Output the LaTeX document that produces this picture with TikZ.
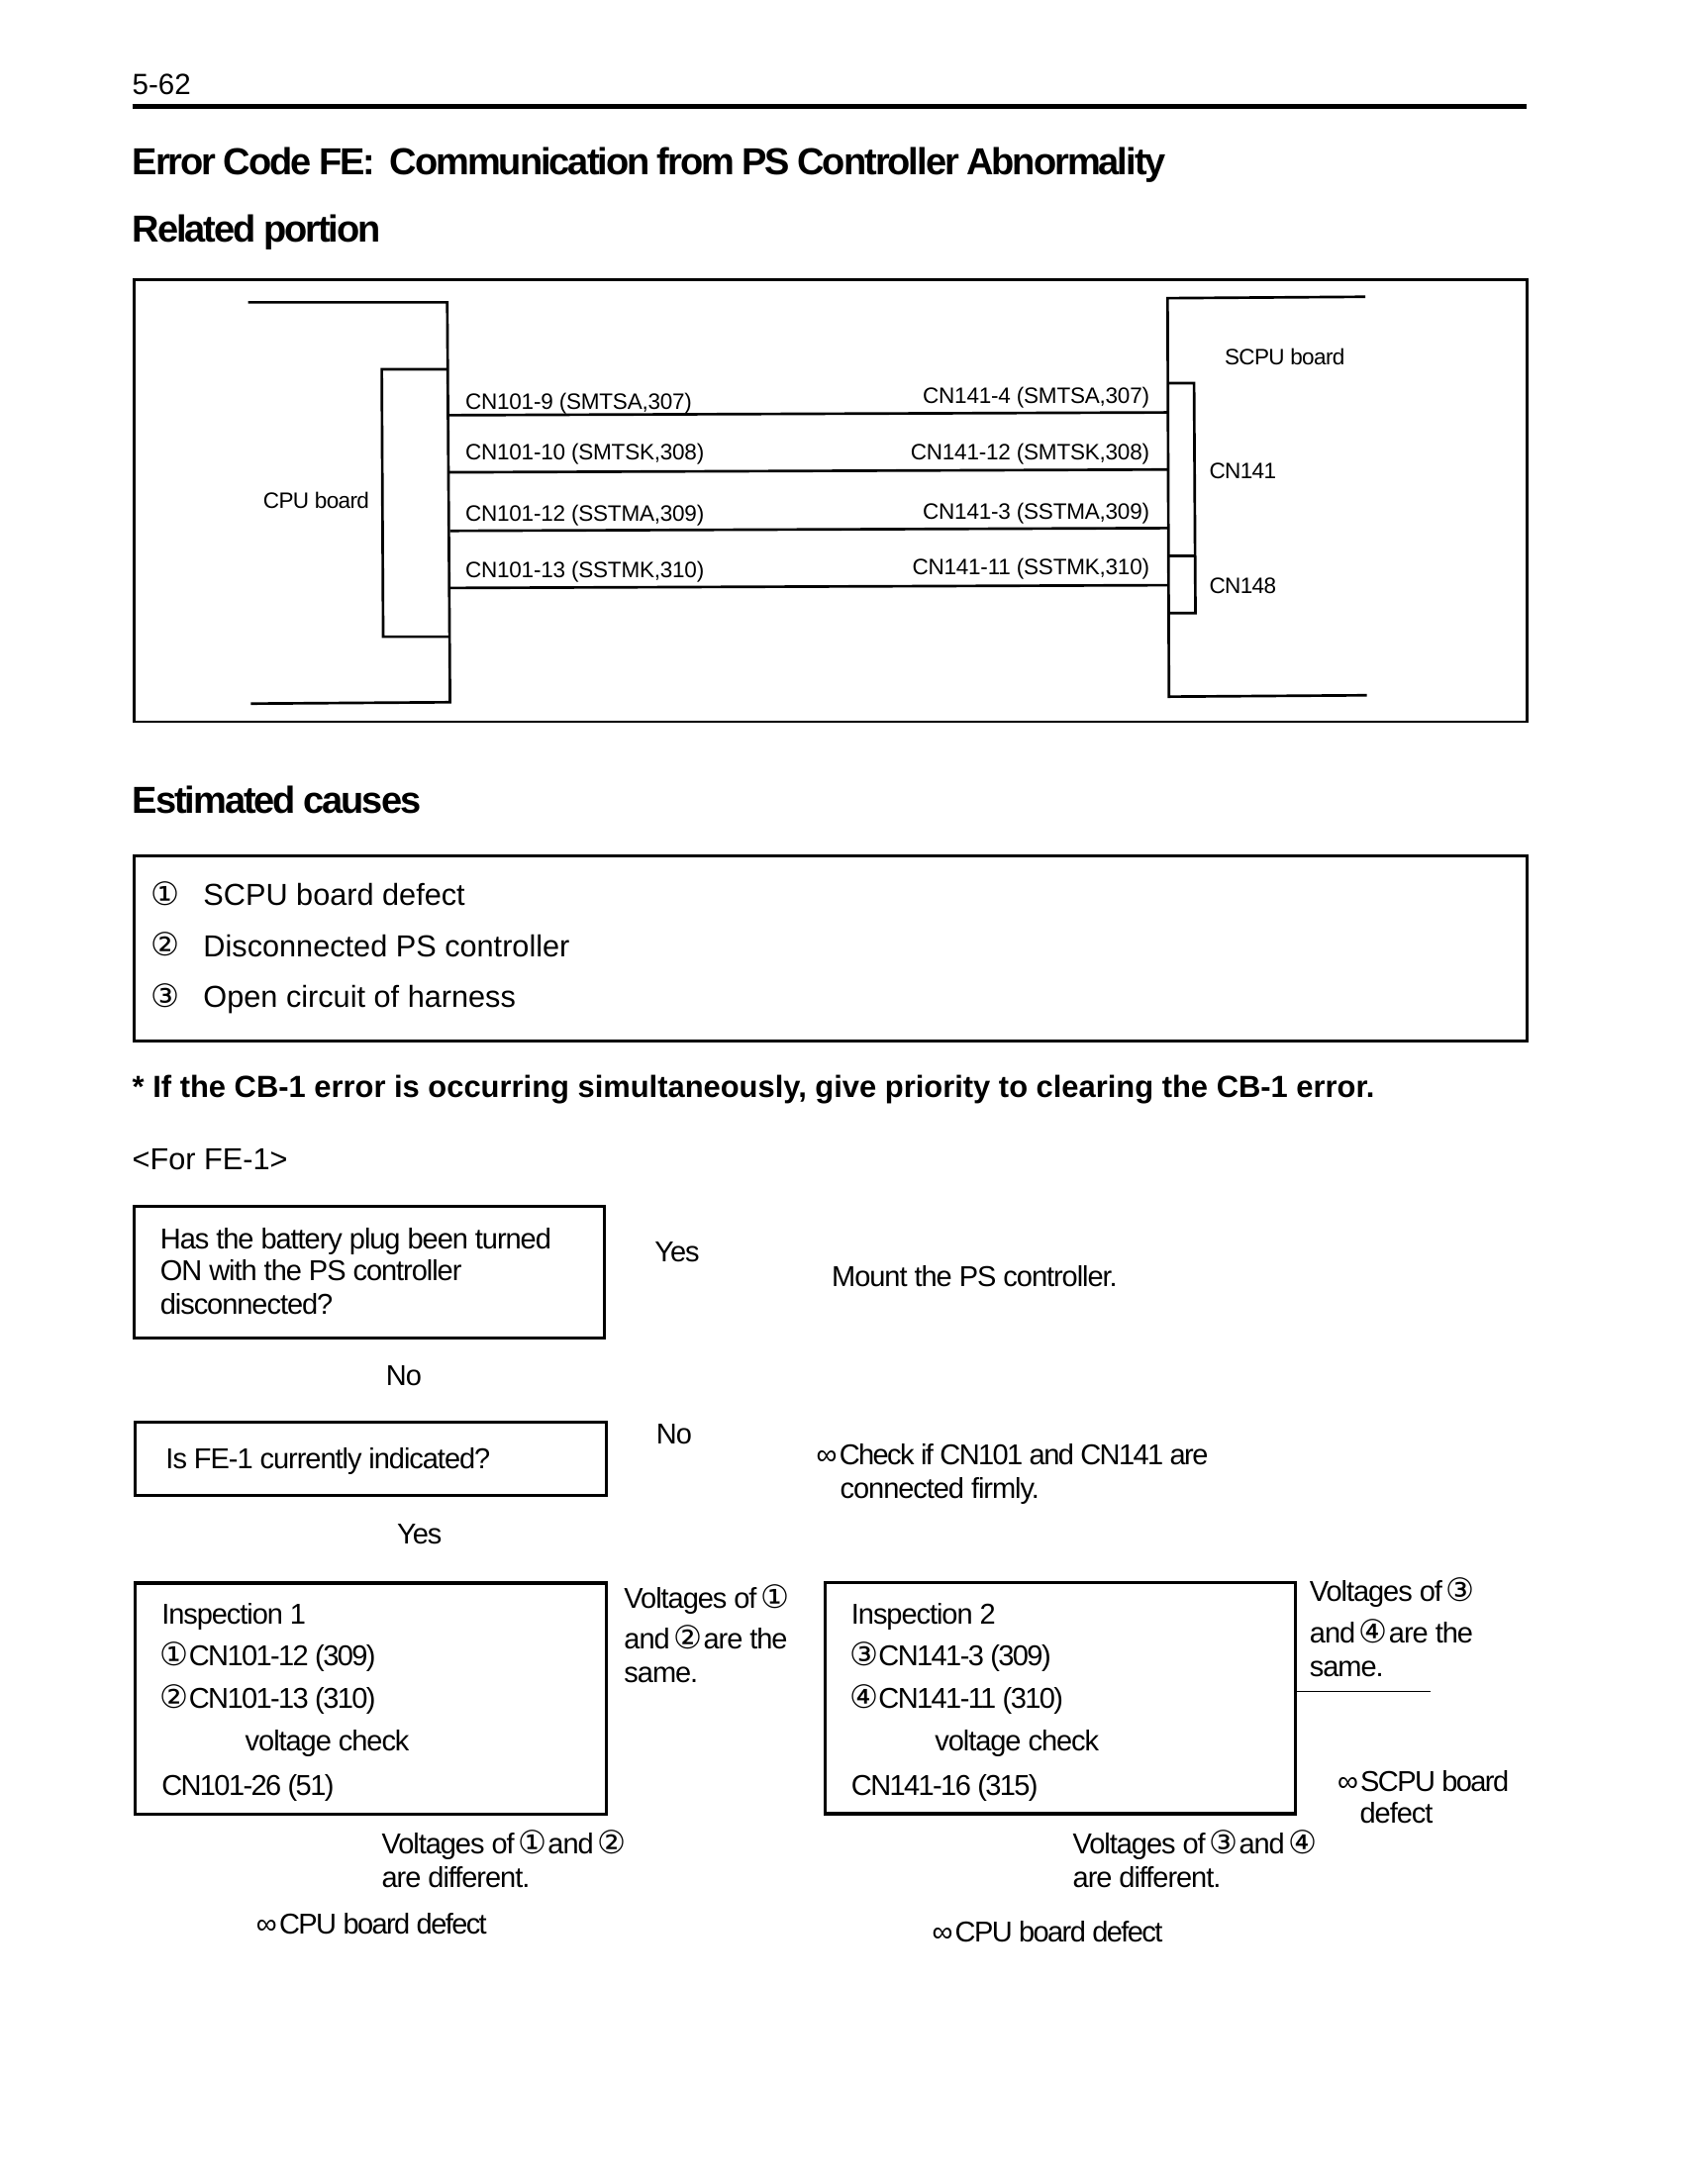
\documentclass[tikz,border=0pt]{standalone}
\usepackage{fontspec}
\setmainfont{Liberation Sans}
\newfontfamily\tightf[LetterSpace=-3.6]{Liberation Sans}
\newfontfamily\digitf[LetterSpace=-5.5]{Liberation Sans}
\newfontfamily\labelf[LetterSpace=-1]{Liberation Sans}
\newfontfamily\labelg[LetterSpace=-2.8]{Liberation Sans}
\newfontfamily\headf[LetterSpace=-5.3,WordSpace=0.85,BoldFont={Liberation Sans Bold}]{Liberation Sans}
\newfontfamily\symf{DejaVu Sans}
\newcommand{\cnglyph}[1]{\makebox[9pt]{\symf\fontsize{11.5}{12}\selectfont #1}}
\newcommand{\cn}[1]{\hspace{2pt}\cnglyph{#1}\hspace{1pt}}
\newcommand{\cnb}[1]{\cnglyph{#1}\hspace{0.8pt}}
\newcommand{\infm}{{\fontsize{10.4}{10}\selectfont ∞}\hspace{0.8pt}}
\tikzset{
  base/.style={anchor=base west,inner sep=0pt,outer sep=0pt,text=black},
  pageno/.style={base,yshift=-3.8pt,font=\fontsize{10.5}{12}\selectfont},
  head/.style={base,yshift=-4.8pt,font=\headf\bfseries\fontsize{13.5}{16}\selectfont},
  small/.style={base,yshift=-2.9pt,font=\labelf\fontsize{8}{10}\selectfont},
  smallr/.style={small,anchor=base east},
  smallg/.style={small,font=\labelg\fontsize{8}{10}\selectfont},
  smallgr/.style={smallg,anchor=base east},
  cause/.style={base,yshift=-3.9pt,font=\fontsize{10.9}{12}\selectfont},
  note/.style={base,yshift=-3.9pt,font=\bfseries\fontsize{10.98}{12}\selectfont},
  flow/.style={base,yshift=-3.7pt,font=\tightf\fontsize{10.3}{12}\selectfont},
  flowd/.style={flow,font=\digitf\fontsize{10.3}{12}\selectfont},
  frame/.style={draw=black,line width=1.05pt,inner sep=0pt,outer sep=0pt,fill=none},
  wire/.style={draw=black,line width=0.95pt},
  heavy/.style={draw=black,line width=1.5pt},
}
\begin{document}
\begin{tikzpicture}[x=0.5pt,y=-0.5pt]
\useasboundingbox (0,0) rectangle (1208,1567.5);
\fill[white] (0,0) rectangle (1208,1567.5);
% header
\node[pageno] (page) at (95,60) {5-62};
\coordinate (ruleL) at (95,76.5);
\coordinate (ruleR) at (1096,76.5);
\draw[black,line width=1.78pt] (ruleL) -- (ruleR);
\node[head] (title) at (95,116) {Error Code FE:\ \ Communication from PS Controller Abnormality};
\node[head] (related) at (95,164) {Related portion};
% related portion frame
\node[frame,minimum width=500pt,minimum height=158.5pt] (frameA) at (596,359.5) {};
% CPU board
\coordinate (c1) at (178,217); \coordinate (c2) at (321,217);
\coordinate (c3) at (323,504); \coordinate (c4) at (180,505);
\draw[wire] (c1) -- (c2) -- (c3) -- (c4);
\coordinate (k1) at (321,265); \coordinate (k2) at (274,265);
\coordinate (k3) at (275,457); \coordinate (k4) at (322,457);
\draw[wire] (k1) -- (k2) -- (k3) -- (k4);
% SCPU board
\coordinate (s1) at (980,213); \coordinate (s2) at (838,214);
\coordinate (s3) at (839,500); \coordinate (s4) at (981,499);
\draw[wire] (s1) -- (s2) -- (s3) -- (s4);
\coordinate (m1) at (838,275); \coordinate (m2) at (857,275);
\coordinate (m3) at (858,440); \coordinate (m4) at (839,440);
\draw[wire] (m1) -- (m2) -- (m3) -- (m4);
\coordinate (d1) at (838,399); \coordinate (d2) at (857,399);
\draw[wire] (d1) -- (d2);
% wires
\coordinate (w1a) at (322,298); \coordinate (w1b) at (838,296);
\coordinate (w2a) at (322,339); \coordinate (w2b) at (838,337);
\coordinate (w3a) at (323,381); \coordinate (w3b) at (838,379);
\coordinate (w4a) at (323,422); \coordinate (w4b) at (838,420);
\draw[wire] (w1a) -- (w1b);
\draw[wire] (w2a) -- (w2b);
\draw[wire] (w3a) -- (w3b);
\draw[wire] (w4a) -- (w4b);
\node[small] (la) at (334,288) {CN101-9 (SMTSA,307)};
\node[small] (lb) at (334,324) {CN101-10 (SMTSK,308)};
\node[small] (lc) at (334,368) {CN101-12 (SSTMA,309)};
\node[small] (ld) at (334,409) {CN101-13 (SSTMK,310)};
\node[smallr] (ra) at (825,284) {CN141-4 (SMTSA,307)};
\node[smallr] (rb) at (825,324) {CN141-12 (SMTSK,308)};
\node[smallr] (rc) at (825,367) {CN141-3 (SSTMA,309)};
\node[smallr] (rd) at (825,407) {CN141-11 (SSTMK,310)};
\node[smallgr] (cpu) at (265,359) {CPU board};
\node[smallg] (scpu) at (879,256) {SCPU board};
\node[smallg] (cn141) at (868,338) {CN141};
\node[smallg] (cn148) at (868,420) {CN148};
% causes
\node[head] (est) at (95,574) {Estimated causes};
\node[frame,minimum width=500pt,minimum height=66.5pt] (frameB) at (596,680.5) {};
\node[cause] (n1) at (110,642) {\cnb{①}};
\node[cause] (n2) at (110,678) {\cnb{②}};
\node[cause] (n3) at (110,715) {\cnb{③}};
\node[cause] (t1) at (146,642) {SCPU board defect};
\node[cause] (t2) at (146,679) {Disconnected PS controller};
\node[cause] (t3) at (146,715) {Open circuit of harness};
\node[note] (warn) at (95,780) {* If the CB-1 error is occurring simultaneously, give priority to clearing the CB-1 error.};
\node[cause] (fe) at (95,832) {<For FE-1>};
% flow boxes
\node[frame,minimum width=169pt,minimum height=47pt] (q1) at (265,913) {};
\node[flow] (q1a) at (115,889) {Has the battery plug been turned};
\node[flow] (q1b) at (115,912) {ON with the PS controller};
\node[flow] (q1c) at (115,936) {disconnected?};
\node[flow] (yes1) at (470,898) {Yes};
\node[flow] (mount) at (597,916) {Mount the PS controller.};
\node[flow] (no1) at (277,987) {No};
\node[frame,minimum width=169pt,minimum height=26pt] (q2) at (266,1047) {};
\node[flow] (q2a) at (119,1047) {Is FE-1 currently indicated?};
\node[flow] (no2) at (471,1029) {No};
\node[flowd] (chk1) at (586,1044) {\infm Check if CN101 and CN141 are};
\node[flow] (chk2) at (603,1068) {connected firmly.};
\node[flow] (yes2) at (285,1101) {Yes};
% inspection 1
\node[frame,minimum width=169pt,minimum height=83pt] (i1) at (266,1219) {};
\draw[heavy] (i1.north west) -- (i1.north east);
\node[flow] (i1a) at (116,1158) {Inspection 1};
\node[flowd] (i1b) at (116,1188) {\cnb{①}CN101-12 (309)};
\node[flowd] (i1c) at (116,1219) {\cnb{②}CN101-13 (310)};
\node[flow] (i1d) at (176,1249) {voltage check};
\node[flowd] (i1e) at (116,1281) {CN101-26 (51)};
\node[flow] (v1a) at (448,1147) {Voltages of\cn{①}};
\node[flow] (v1b) at (448,1176) {and\cn{②}are the};
\node[flow] (v1c) at (448,1200) {same.};
\node[flow] (d1a) at (274,1323) {Voltages of\cn{①}and\cn{②}};
\node[flow] (d1b) at (274,1347) {are different.};
\node[flowd] (r1) at (184,1381) {\infm CPU board defect};
% inspection 2
\node[frame,minimum width=169pt,minimum height=83pt] (i2) at (761,1219) {};
\draw[heavy] (i2.south west) -- (i2.south east);
\node[flow] (i2a) at (611,1158) {Inspection 2};
\node[flowd] (i2b) at (611,1188) {\cnb{③}CN141-3 (309)};
\node[flowd] (i2c) at (611,1219) {\cnb{④}CN141-11 (310)};
\node[flow] (i2d) at (671,1249) {voltage check};
\node[flowd] (i2e) at (611,1281) {CN141-16 (315)};
\node[flow] (v2a) at (940,1142) {Voltages of\cn{③}};
\node[flow] (v2b) at (940,1172) {and\cn{④}are the};
\node[flow] (v2c) at (940,1196) {same.};
\coordinate (tail) at (1027,1214);
\draw[black,line width=0.4pt] (i2.east |- tail) -- (tail);
\node[flowd] (r2a) at (960,1278) {\infm SCPU board};
\node[flow] (r2b) at (976,1301) {defect};
\node[flow] (d2a) at (770,1323) {Voltages of\cn{③}and\cn{④}};
\node[flow] (d2b) at (770,1347) {are different.};
\node[flowd] (r3) at (669,1386) {\infm CPU board defect};
\end{tikzpicture}
\end{document}
